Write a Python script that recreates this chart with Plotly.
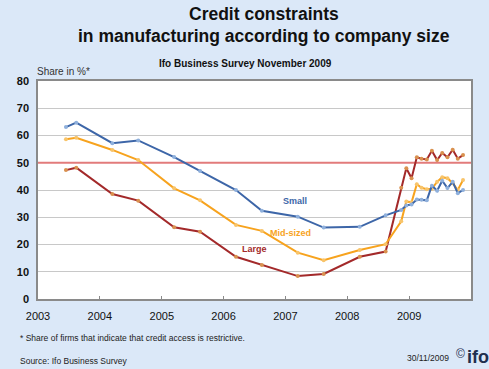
import plotly.graph_objects as go

# ---- data ----
dates = ["2003-06-15", "2003-08-15", "2004-03-15", "2004-08-15", "2005-03-15", "2005-08-15",
         "2006-03-15", "2006-08-15", "2007-03-15", "2007-08-15", "2008-03-15", "2008-08-15",
         "2008-11-15", "2008-12-15", "2009-01-15", "2009-02-15", "2009-03-15", "2009-04-15",
         "2009-05-15", "2009-06-15", "2009-07-15", "2009-08-15", "2009-09-15", "2009-10-15",
         "2009-11-15"]
small = [63.1, 64.7, 57.2, 58.2, 52.1, 47.0, 40.0, 32.4, 30.2, 26.2, 26.5, 30.7,
         32.7, 34.3, 34.7, 36.5, 36.4, 36.2, 41.6, 39.7, 43.4, 40.7, 43.0, 38.8, 40.0]
mid_sized = [58.6, 59.2, 54.7, 51.0, 40.6, 36.2, 27.2, 25.0, 17.0, 14.2, 18.0, 20.1,
             28.5, 35.8, 35.5, 42.1, 40.8, 40.3, 40.5, 43.0, 44.7, 44.3, 42.5, 40.0, 43.7]
large = [47.3, 48.2, 38.5, 36.1, 26.3, 24.7, 15.5, 12.5, 8.4, 9.2, 15.5, 17.4,
         40.8, 48.0, 44.3, 52.0, 51.5, 51.2, 54.4, 51.0, 53.6, 52.0, 54.8, 51.5, 52.8]
threshold = 50
year_ticks = ["2003-01-01", "2004-01-01", "2005-01-01", "2006-01-01", "2007-01-01",
              "2008-01-01", "2009-01-01", "2010-01-01"]
year_labels = ["2003", "2004", "2005", "2006", "2007", "2008", "2009", ""]
x_range = ["2003-01-01", "2010-01-01"]

FONT = "Liberation Sans, Arial, sans-serif"
BG = "#dbe8f8"
C_SMALL = "#3d66a8"
C_MID = "#f7a31e"
C_LARGE = "#a3292a"

fig = go.Figure()

fig.add_trace(go.Scatter(x=x_range, y=[threshold, threshold], mode="lines",
                         line=dict(color="#e27b7b", width=2.2), hoverinfo="skip",
                         showlegend=False))

for name, vals, col, mcol in [("Large", large, C_LARGE, "#d9914f"),
                              ("Mid-sized", mid_sized, C_MID, "#f8c46a"),
                              ("Small", small, C_SMALL, "#8fb0dc")]:
    fig.add_trace(go.Scatter(x=dates, y=vals, mode="lines+markers", name=name,
                             line=dict(color=col, width=2),
                             marker=dict(size=4, color=mcol, line=dict(width=0)),
                             showlegend=False))

W, H = 489, 369
L, R, T, B = 38, 18, 81, 70
pw, ph = W - L - R, H - T - B


def px(x):
    return (x - L) / pw


def py(y):
    return (H - B - y) / ph


ann = [
    dict(text="<b>Credit constraints</b>", x=px(264), y=py(14), size=17.5, color="#111111", xanchor="center"),
    dict(text="<b>in manufacturing according to company size</b>", x=px(264), y=py(36), size=17.5, color="#111111", xanchor="center"),
    dict(text="<b>Ifo Business Survey November 2009</b>", x=px(245), y=py(63), size=10, color="#111111", xanchor="center"),
    dict(text="Share in %*", x=px(35), y=py(71), size=10, color="#333333", xanchor="left"),
    dict(text="* Share of firms that indicate that credit access is restrictive.", x=px(18), y=py(338), size=8.5, color="#222222", xanchor="left"),
    dict(text="Source: Ifo Business Survey", x=px(18), y=py(361), size=8.5, color="#222222", xanchor="left"),
    dict(text="30/11/2009", x=px(451), y=py(358), size=8.5, color="#222222", xanchor="right"),
    dict(text="©", x=px(454), y=py(354), size=12, color="#1f2f4f", xanchor="left"),
    dict(text="<b>ifo</b>", x=px(465), y=py(357), size=18, color="#1f2f4f", xanchor="left"),
]
annotations = []
for a in ann:
    annotations.append(dict(text=a["text"], x=a["x"], y=a["y"], xref="paper", yref="paper",
                            xanchor=a["xanchor"], yanchor="middle", showarrow=False,
                            font=dict(family=FONT, size=a["size"], color=a["color"])))

for txt, xd, yv, col in [("Small", "2007-02-25", 36.0, C_SMALL),
                         ("Mid-sized", "2007-02-03", 24.3, C_MID),
                         ("Large", "2006-07-05", 18.2, C_LARGE)]:
    annotations.append(dict(text="<b>" + txt + "</b>", x=xd, y=yv, xref="x", yref="y",
                            showarrow=False, font=dict(family=FONT, size=9, color=col)))

fig.update_layout(
    width=W, height=H,
    margin=dict(l=L, r=R, t=T, b=B),
    paper_bgcolor=BG, plot_bgcolor="white",
    annotations=annotations,
    xaxis=dict(type="date", range=x_range, tickvals=year_ticks, ticktext=year_labels,
               showgrid=False, showline=True, linecolor="#8a8a8a", linewidth=1.5, mirror=True,
               ticks="inside", ticklen=3, tickcolor="#8a8a8a", ticklabelstandoff=6,
               tickfont=dict(family=FONT, size=11, color="#111111"), zeroline=False),
    yaxis=dict(range=[0, 80], dtick=10, showgrid=True, gridcolor="#c8c8c8", gridwidth=1,
               showline=True, linecolor="#8a8a8a", linewidth=1.5, mirror=True,
               ticklabelstandoff=5,
               tickfont=dict(family=FONT, size=11, color="#111111"), ticks="", zeroline=False),
    font=dict(family=FONT),
    hovermode=False,
)
fig.update_xaxes(tickprefix="<b>", ticksuffix="</b>")
fig.update_yaxes(tickprefix="<b>", ticksuffix="</b>")

fig.write_html("out.html", config={"displayModeBar": False},
               post_script="document.body.style.margin='0px';document.body.style.overflow='hidden';")
